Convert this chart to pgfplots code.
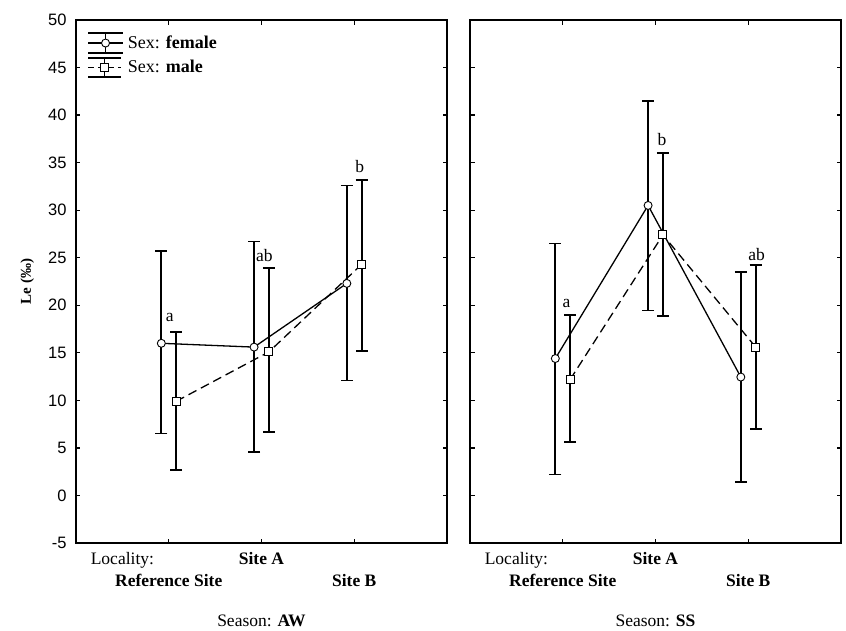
\documentclass[border=0pt]{standalone}
\usepackage{fontspec}
\setmainfont{Liberation Serif}
\setsansfont{Liberation Sans}
\usepackage{pgfplots}
\usepackage{pgfplotstable}
\pgfplotsset{compat=1.18}

% x y upper lower
\pgfplotstableread{
x y ep em
0.92 16.0 9.7 9.5
1.92 15.6 11.1 11.05
2.92 22.3 10.3 10.2
}\AWfemale
\pgfplotstableread{
x y ep em
1.08 9.9 7.3 7.2
2.08 15.1 8.8 8.4
3.08 24.3 8.9 9.1
}\AWmale
\pgfplotstableread{
x y ep em
0.92 14.4 12.1 12.2
1.92 30.5 11.0 11.05
2.92 12.45 11.05 11.05
}\SSfemale
\pgfplotstableread{
x y ep em
1.08 12.2 6.8 6.6
2.08 27.4 8.6 8.55
3.08 15.6 8.6 8.6
}\SSmale

\pgfplotsset{
  panel/.style={
    scale only axis, width=371pt, height=523pt,
    xmin=0, xmax=4, ymin=-5, ymax=50,
    xtick={1,2,3}, xticklabels={},
    ytick={-5,0,...,50},
    tick align=inside, major tick length=4.5pt,
    axis line style={line width=1.6pt},
    every tick/.style={line width=1.3pt, black},
    clip=false,
    tick label style={font=\sffamily\fontsize{16.5}{18}\selectfont},
    yticklabel style={xshift=-6pt},
    /pgf/number format/assume math mode=true,
  },
  ebars/.style={
    error bars/.cd, y dir=both, y explicit,
    error bar style={line width=1.7pt, solid, black},
    error mark options={rotate=90, mark size=6pt, line width=1.7pt, solid, black},
  },
  femstyle/.style={black, line width=1.3pt, mark=*, mark size=4pt,
    mark options={fill=white, solid, line width=0.9pt}},
  malstyle/.style={black, line width=1.3pt, dash pattern=on 9pt off 5pt, mark=square*, mark size=4pt,
    mark options={fill=white, solid, line width=0.9pt}},
  femlegend/.style={legend image code/.code={%
    \draw[solid,line width=1.7pt,black] (0pt,10pt) -- (35pt,10pt) (0pt,-10pt) -- (35pt,-10pt) (17.5pt,-10pt) -- (17.5pt,10pt);
    \draw[##1, mark repeat=2, mark phase=2] plot coordinates {(0pt,0pt) (17.5pt,0pt) (35pt,0pt)};}},
  mallegend/.style={legend image code/.code={%
    \draw[solid,line width=1.7pt,black] (0pt,9.5pt) -- (33pt,9.5pt) (0pt,-9.5pt) -- (33pt,-9.5pt) (16.5pt,-9.5pt) -- (16.5pt,9.5pt);
    \draw[##1, dash pattern=on 6pt off 4pt, mark repeat=2, mark phase=2] plot coordinates {(0pt,0pt) (16.5pt,0pt) (33pt,0pt)};}},
}
\newcommand{\lf}{\fontsize{17.5}{19}\selectfont}

\begin{document}
\begin{tikzpicture}
\useasboundingbox (0pt,0pt) rectangle (846pt,630pt);

% ---------- left panel ----------
\begin{axis}[panel, at={(76pt,87pt)}, anchor=south west,
  legend style={at={(0,1)}, anchor=north west, xshift=11pt, yshift=-12pt,
    draw=none, fill=none, inner sep=0pt, row sep=3pt,
    font=\fontsize{18}{20}\selectfont, nodes={inner xsep=4pt, inner ysep=0pt}},
  legend cell align=left]
\addplot[femstyle, femlegend, ebars]
  table[x=x, y=y, y error plus=ep, y error minus=em] {\AWfemale};
\addlegendentry{Sex: \textbf{female}}
\addplot[malstyle, mallegend, ebars]
  table[x=x, y=y, y error plus=ep, y error minus=em] {\AWmale};
\addlegendentry{Sex: \textbf{male}}

\node[font=\lf] at (axis cs:1.01,18.7) {a};
\node[font=\lf] at (axis cs:2.03,25.2) {ab};
\node[font=\lf] at (axis cs:3.06,34.6) {b};

\node[font=\lf, anchor=base] at ([yshift=-21pt]axis cs:0.5,-5) {Locality:};
\node[font=\lf\bfseries, anchor=base] at ([yshift=-21pt]axis cs:2,-5) {Site A};
\node[font=\lf\bfseries, anchor=base] at ([yshift=-43pt]axis cs:1,-5) {Reference Site};
\node[font=\lf\bfseries, anchor=base] at ([yshift=-43pt]axis cs:3,-5) {Site B};
\node[font=\lf, anchor=base] at ([yshift=-83pt]axis cs:2,-5) {Season: \textbf{AW}};
\node[font=\fontsize{15}{17}\selectfont\bfseries, rotate=90, anchor=base] at ([xshift=-45pt]rel axis cs:0,0.5) {Le (‰)};
\end{axis}

% ---------- right panel ----------
\begin{axis}[panel, at={(470pt,87pt)}, anchor=south west, yticklabels={}]
\addplot[femstyle, ebars]
  table[x=x, y=y, y error plus=ep, y error minus=em] {\SSfemale};
\addplot[malstyle, ebars]
  table[x=x, y=y, y error plus=ep, y error minus=em] {\SSmale};

\node[font=\lf] at (axis cs:1.04,20.2) {a};
\node[font=\lf] at (axis cs:2.07,37.4) {b};
\node[font=\lf] at (axis cs:3.09,25.3) {ab};

\node[font=\lf, anchor=base] at ([yshift=-21pt]axis cs:0.5,-5) {Locality:};
\node[font=\lf\bfseries, anchor=base] at ([yshift=-21pt]axis cs:2,-5) {Site A};
\node[font=\lf\bfseries, anchor=base] at ([yshift=-43pt]axis cs:1,-5) {Reference Site};
\node[font=\lf\bfseries, anchor=base] at ([yshift=-43pt]axis cs:3,-5) {Site B};
\node[font=\lf, anchor=base] at ([yshift=-83pt]axis cs:2,-5) {Season: \textbf{SS}};
\end{axis}
\end{tikzpicture}
\end{document}
